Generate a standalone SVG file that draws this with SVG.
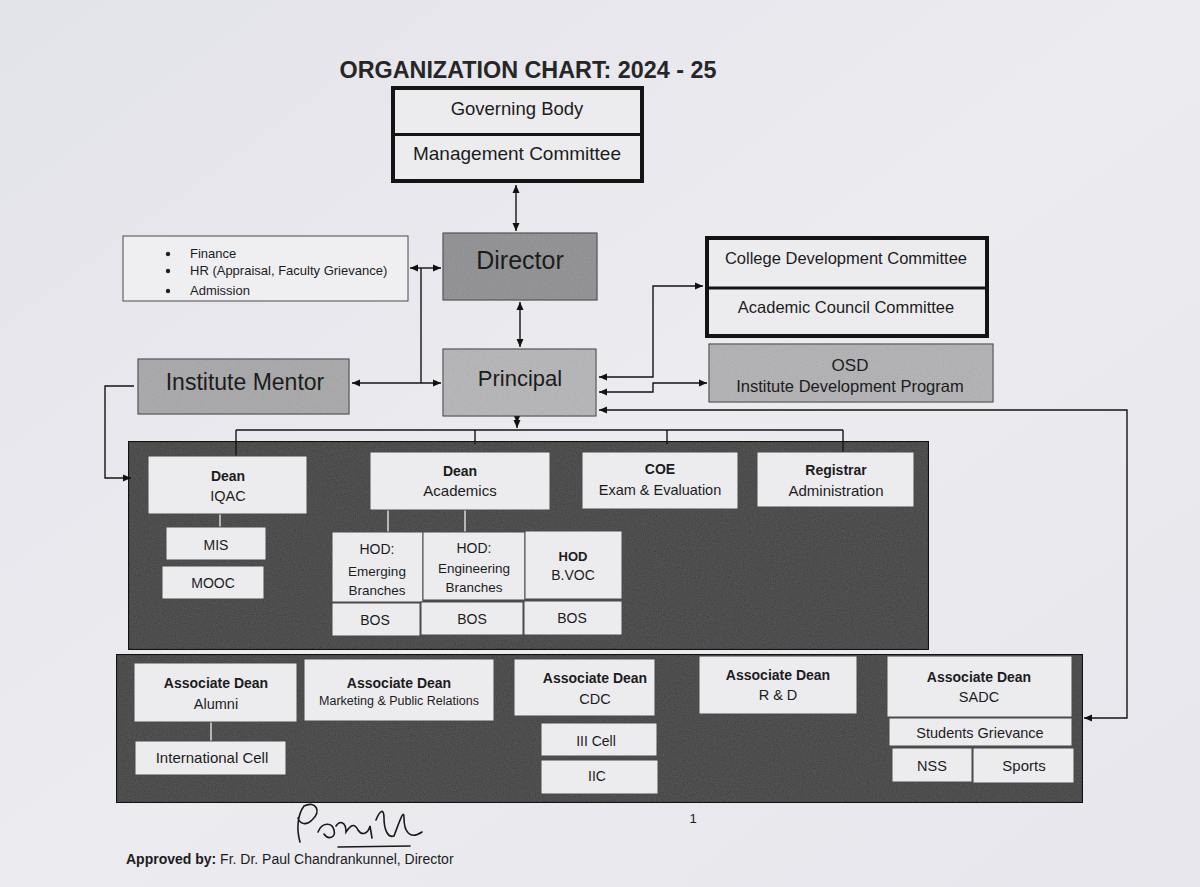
<svg xmlns="http://www.w3.org/2000/svg" width="1200" height="887" viewBox="0 0 1200 887">
<defs>
<linearGradient id="paper" x1="0" y1="0" x2="1" y2="1">
<stop offset="0" stop-color="#e3e3ea"/>
<stop offset="0.5" stop-color="#ebebf0"/>
<stop offset="1" stop-color="#e6e6ec"/>
</linearGradient>
<filter id="grain" x="0" y="0" width="1" height="1">
<feTurbulence type="fractalNoise" baseFrequency="0.85" numOctaves="2" seed="7" result="n"/>
<feColorMatrix in="n" type="matrix" values="0.33 0.33 0.33 0 0 0.33 0.33 0.33 0 0 0.33 0.33 0.33 0 0 0 0 0 0 1" result="g"/>
<feComposite in="g" in2="SourceGraphic" operator="in"/>
</filter>
<marker id="ah" viewBox="0 0 8 8" refX="8" refY="4" markerWidth="8" markerHeight="8" markerUnits="userSpaceOnUse" orient="auto-start-reverse">
<path d="M0,0.5 L8,4 L0,7.5 z" fill="#111"/>
</marker>
</defs>
<style>
text{font-family:"Liberation Sans",Arial,sans-serif;fill:#1c1c1c;text-anchor:middle}
.lt{fill:#ececef;stroke:#4a4a4a;stroke-width:1}
.thick{fill:#ececef;stroke:#141414;stroke-width:4}
.div{stroke:#141414;stroke-width:3}
.band{fill:#1a1a1a;stroke:#111;stroke-width:2}
.grain{opacity:0.32}
.sgrain{opacity:0.18}
.c{fill:none;stroke:#151515;stroke-width:1.4}
.ca{fill:none;stroke:#151515;stroke-width:1.4;marker-end:url(#ah)}
.cb{fill:none;stroke:#151515;stroke-width:1.4;marker-start:url(#ah);marker-end:url(#ah)}
.ci{fill:none;stroke:#d8d8d8;stroke-width:1.5}
.b{font-weight:bold}
</style>
<rect x="0" y="0" width="1200" height="887" fill="url(#paper)"/>

<text x="528" y="78" font-size="23" font-weight="bold" textLength="377" lengthAdjust="spacingAndGlyphs" style="fill:#262626">ORGANIZATION CHART: 2024 - 25</text>

<!-- dark bands -->
<g id="band-deans">
<rect class="band" x="129" y="442" width="799" height="207"/>
<rect class="grain" x="129" y="442" width="799" height="207" fill="#fff" filter="url(#grain)"/>
</g>
<g id="band-associate-deans">
<rect class="band" x="117" y="655" width="965" height="147"/>
<rect class="grain" x="117" y="655" width="965" height="147" fill="#fff" filter="url(#grain)"/>
</g>

<g id="connectors">
<line class="cb" x1="516" y1="185" x2="516" y2="231"/>
<line class="cb" x1="410" y1="268" x2="441" y2="268"/>
<line class="c" x1="421" y1="268" x2="421" y2="383"/>
<line class="cb" x1="352" y1="383" x2="441" y2="383"/>
<line class="cb" x1="520" y1="302" x2="520" y2="347"/>
<polyline class="cb" points="599,377 653,377 653,286 703,286"/>
<polyline class="cb" points="599,392 653,392 653,383 707,383"/>
<polyline class="cb" points="599,410 1127,410 1127,718 1084,718"/>
<polyline class="ca" points="134,386 105,386 105,478 131,478"/>
<line class="ca" x1="517" y1="417" x2="517" y2="423"/>
<line class="ca" x1="517" y1="420" x2="517" y2="428"/>
<line class="c" x1="236" y1="430" x2="843" y2="430"/>
<line class="c" x1="236" y1="430" x2="236" y2="456"/>
<line class="c" x1="475" y1="430" x2="475" y2="444"/>
<line class="c" x1="667" y1="430" x2="667" y2="444"/>
<line class="c" x1="843" y1="430" x2="843" y2="452"/>
<line class="ci" x1="220" y1="514" x2="220" y2="527"/>
<line class="ci" x1="388" y1="510" x2="388" y2="532"/>
<line class="ci" x1="465" y1="510" x2="465" y2="532"/>
<line class="ci" x1="211" y1="722" x2="211" y2="741"/>
</g>

<g id="governing-body">
<rect class="thick" x="393" y="88" width="249" height="93"/>
<line class="div" x1="393" y1="134.5" x2="642" y2="134.5"/>
<text x="517" y="115" font-size="18.5">Governing Body</text>
<text x="517" y="160" font-size="19">Management Committee</text>
</g>

<g id="admin-list">
<rect class="lt" x="123" y="236" width="285" height="65" style="fill:#efeff2"/>
<circle cx="168" cy="254" r="2.2" fill="#222"/>
<circle cx="168" cy="271" r="2.2" fill="#222"/>
<circle cx="168" cy="291" r="2.2" fill="#222"/>
<text x="190" y="258" font-size="13" style="text-anchor:start">Finance</text>
<text x="190" y="275" font-size="13" style="text-anchor:start">HR (Appraisal, Faculty Grievance)</text>
<text x="190" y="295" font-size="13" style="text-anchor:start">Admission</text>
</g>

<g id="director">
<rect x="443" y="233" width="154" height="67" fill="#8a8a8d" stroke="#333" stroke-width="1"/>
<rect class="sgrain" x="443" y="233" width="154" height="67" fill="#fff" filter="url(#grain)"/>
<text x="520" y="269" font-size="25">Director</text>
</g>

<g id="principal">
<rect x="443" y="349" width="153" height="67" fill="#b4b4b7" stroke="#333" stroke-width="1"/>
<rect class="sgrain" x="443" y="349" width="153" height="67" fill="#fff" filter="url(#grain)"/>
<text x="520" y="386" font-size="22">Principal</text>
</g>

<g id="institute-mentor">
<rect x="138" y="359" width="211" height="55" fill="#a5a5a8" stroke="#333" stroke-width="1"/>
<rect class="sgrain" x="138" y="359" width="211" height="55" fill="#fff" filter="url(#grain)"/>
<text x="245" y="390" font-size="23">Institute Mentor</text>
</g>

<g id="committees">
<rect class="thick" x="707" y="238" width="280" height="98"/>
<line class="div" x1="707" y1="288" x2="987" y2="288"/>
<text x="846" y="264" font-size="16.5">College Development Committee</text>
<text x="846" y="313" font-size="16.5">Academic Council Committee</text>
</g>

<g id="osd">
<rect x="709" y="344" width="284" height="58" fill="#b0b0b3" stroke="#333" stroke-width="1"/>
<rect class="sgrain" x="709" y="344" width="284" height="58" fill="#fff" filter="url(#grain)"/>
<text x="850" y="371" font-size="17">OSD</text>
<text x="850" y="392" font-size="16.5">Institute Development Program</text>
</g>

<g id="dean-iqac">
<rect class="lt" x="148" y="456" width="159" height="58"/>
<text class="b" x="228" y="481" font-size="14">Dean</text>
<text x="228" y="501" font-size="14.5">IQAC</text>
</g>
<g id="mis">
<rect class="lt" x="166" y="527" width="100" height="33"/>
<text x="216" y="550" font-size="14">MIS</text>
</g>
<g id="mooc">
<rect class="lt" x="162" y="566" width="102" height="33"/>
<text x="213" y="588" font-size="14">MOOC</text>
</g>
<g id="dean-academics">
<rect class="lt" x="370" y="452" width="180" height="58"/>
<text class="b" x="460" y="476" font-size="14">Dean</text>
<text x="460" y="496" font-size="15">Academics</text>
</g>
<g id="hod-emerging">
<rect class="lt" x="332" y="532" width="91" height="70"/>
<text x="377" y="554" font-size="14">HOD:</text>
<text x="377" y="576" font-size="13.5">Emerging</text>
<text x="377" y="595" font-size="13.5">Branches</text>
</g>
<g id="hod-engineering">
<rect class="lt" x="423" y="532" width="102" height="68"/>
<text x="474" y="553" font-size="14">HOD:</text>
<text x="474" y="573" font-size="13.5">Engineering</text>
<text x="474" y="592" font-size="13.5">Branches</text>
</g>
<g id="hod-bvoc">
<rect class="lt" x="525" y="531" width="97" height="68"/>
<text class="b" x="573" y="561" font-size="13">HOD</text>
<text x="573" y="580" font-size="14">B.VOC</text>
</g>
<g id="bos-1">
<rect class="lt" x="332" y="603" width="88" height="33"/>
<text x="375" y="625" font-size="14">BOS</text>
</g>
<g id="bos-2">
<rect class="lt" x="421" y="602" width="102" height="33"/>
<text x="472" y="624" font-size="14">BOS</text>
</g>
<g id="bos-3">
<rect class="lt" x="524" y="601" width="98" height="34"/>
<text x="572" y="623" font-size="14">BOS</text>
</g>
<g id="coe">
<rect class="lt" x="582" y="452" width="156" height="57"/>
<text class="b" x="660" y="474" font-size="14">COE</text>
<text x="660" y="495" font-size="14.5">Exam &amp; Evaluation</text>
</g>
<g id="registrar">
<rect class="lt" x="757" y="452" width="157" height="55"/>
<text class="b" x="836" y="475" font-size="14">Registrar</text>
<text x="836" y="496" font-size="15">Administration</text>
</g>

<g id="ad-alumni">
<rect class="lt" x="134" y="663" width="163" height="59"/>
<text class="b" x="216" y="688" font-size="14">Associate Dean</text>
<text x="216" y="709" font-size="14.5">Alumni</text>
</g>
<g id="international-cell">
<rect class="lt" x="135" y="741" width="151" height="34"/>
<text x="212" y="763" font-size="15">International Cell</text>
</g>
<g id="ad-marketing">
<rect class="lt" x="304" y="659" width="190" height="62"/>
<text class="b" x="399" y="688" font-size="14">Associate Dean</text>
<text x="399" y="705" font-size="12.5">Marketing &amp; Public Relations</text>
</g>
<g id="ad-cdc">
<rect class="lt" x="514" y="659" width="141" height="57"/>
<text class="b" x="595" y="683" font-size="14">Associate Dean</text>
<text x="595" y="704" font-size="14.5">CDC</text>
</g>
<g id="iii-cell">
<rect class="lt" x="541" y="723" width="116" height="33"/>
<text x="596" y="746" font-size="14">III Cell</text>
</g>
<g id="iic">
<rect class="lt" x="541" y="760" width="117" height="34"/>
<text x="597" y="781" font-size="14">IIC</text>
</g>
<g id="ad-rd">
<rect class="lt" x="699" y="656" width="158" height="58"/>
<text class="b" x="778" y="680" font-size="14">Associate Dean</text>
<text x="778" y="700" font-size="14.5">R &amp; D</text>
</g>
<g id="ad-sadc">
<rect class="lt" x="887" y="656" width="185" height="61"/>
<text class="b" x="979" y="682" font-size="14">Associate Dean</text>
<text x="979" y="702" font-size="14.5">SADC</text>
</g>
<g id="students-grievance">
<rect class="lt" x="889" y="718" width="183" height="28"/>
<text x="980" y="738" font-size="14.5">Students Grievance</text>
</g>
<g id="nss">
<rect class="lt" x="892" y="748" width="80" height="34"/>
<text x="932" y="771" font-size="14.5">NSS</text>
</g>
<g id="sports">
<rect class="lt" x="973" y="748" width="101" height="35"/>
<text x="1024" y="771" font-size="15">Sports</text>
</g>

<text x="693" y="823" font-size="13">1</text>

<g id="signature" fill="none" stroke="#1a1a1a" stroke-width="1.6" stroke-linecap="round">
<path d="M300,842 C296,828 298,814 304,806 C316,800 322,812 312,820 C306,826 300,824 298,818 M318,832 C322,822 332,822 334,830 C336,838 328,840 324,834 M336,826 C340,820 346,822 346,832 C350,826 354,822 358,830 C362,836 368,834 370,826 L372,838 M376,820 C380,810 384,808 384,818 C384,830 388,838 394,836 C400,820 404,808 404,818 C404,832 410,840 422,832"/>
<path d="M338,847 L410,846"/>
</g>
<text x="126" y="864" font-size="14" style="text-anchor:start"><tspan class="b">Approved by:</tspan> Fr. Dr. Paul Chandrankunnel, Director</text>
</svg>
